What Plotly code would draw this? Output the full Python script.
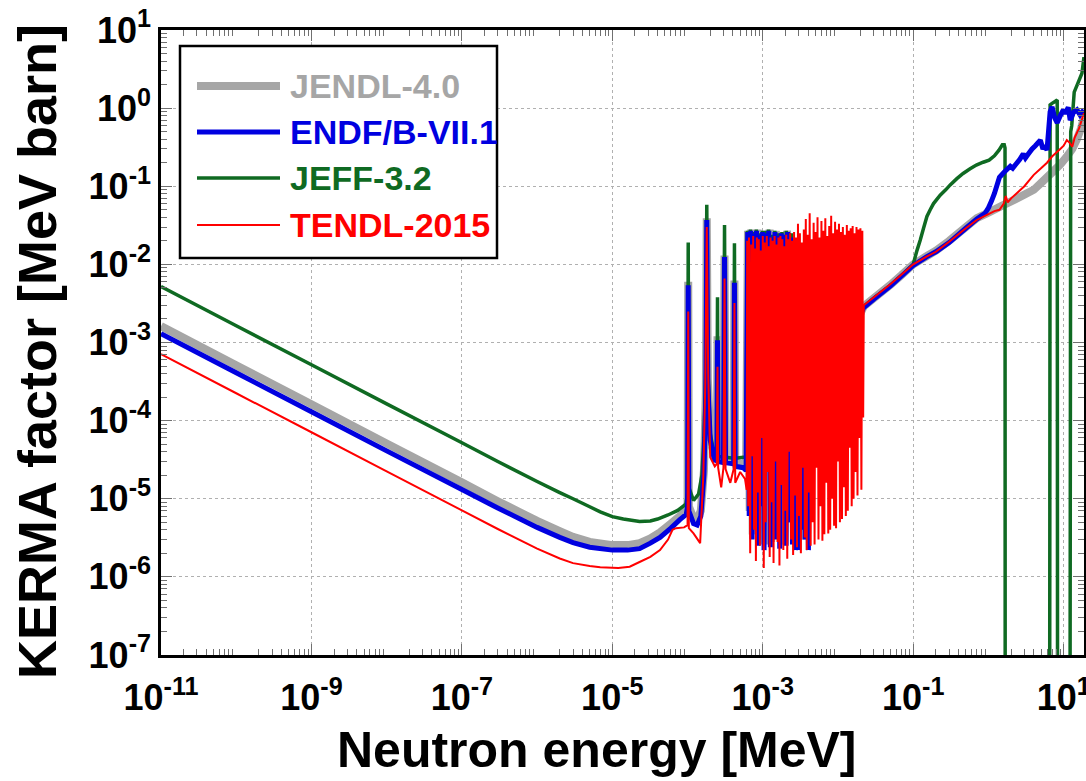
import plotly.graph_objects as go

# ---------------- series data (energy in MeV, KERMA in MeV barn) ----------------
# thermal / epithermal 1/v region
jendl_low_e = [1e-11, 1e-10, 1e-9, 1e-8, 1e-7, 3e-7, 1e-6, 2e-6, 3e-6, 5e-6, 1e-5, 1.6e-5, 2.3e-5, 3.2e-5,
               4.3e-5, 6e-5, 7.9e-5, 9.6e-5]
jendl_low_k = [1.62e-3, 5.1e-4, 1.62e-4, 5.1e-5, 1.62e-5, 9.3e-6, 5.2e-6, 3.85e-6, 3.25e-6, 2.8e-6, 2.55e-6,
               2.55e-6, 2.7e-6, 3.1e-6, 3.7e-6, 4.8e-6, 6.0e-6, 7.0e-6]
endf_low_e = [1e-11, 1e-10, 1e-9, 1e-8, 1e-7, 3e-7, 1e-6, 2e-6, 3e-6, 5e-6, 1e-5, 1.6e-5, 2.3e-5, 3.2e-5,
              4.3e-5, 6e-5, 7.9e-5, 9.6e-5]
endf_low_k = [1.30e-3, 4.1e-4, 1.30e-4, 4.1e-5, 1.31e-5, 7.6e-6, 4.3e-6, 3.2e-6, 2.75e-6, 2.4e-6, 2.2e-6,
              2.2e-6, 2.3e-6, 2.7e-6, 3.2e-6, 4.2e-6, 5.4e-6, 6.3e-6]
jeff_low_e = [1e-11, 1e-10, 1e-9, 1e-8, 1e-7, 3e-7, 1e-6, 2e-6, 3e-6, 5e-6, 6.9e-6, 1e-5, 1.4e-5, 2.3e-5,
              3.2e-5, 4e-5, 5.5e-5, 7.4e-5, 9.5e-5]
jeff_low_k = [5.2e-3, 1.64e-3, 5.2e-4, 1.64e-4, 5.2e-5, 3.0e-5, 1.66e-5, 1.2e-5, 1.0e-5, 7.9e-6, 6.8e-6,
              5.9e-6, 5.5e-6, 5.1e-6, 5.2e-6, 5.5e-6, 6.2e-6, 7.1e-6, 8.5e-6]
tendl_low_e = [1e-11, 1e-10, 1e-9, 1e-8, 1e-7, 3e-7, 1e-6, 2e-6, 3e-6, 5e-6, 6.9e-6, 1.2e-5, 1.7e-5, 2.3e-5,
               3.2e-5, 4.3e-5, 5.5e-5, 6.3e-5, 7.0e-5, 9.0e-5]
tendl_low_k = [7.1e-4, 2.24e-4, 7.1e-5, 2.24e-5, 7.1e-6, 4.1e-6, 2.3e-6, 1.72e-6, 1.5e-6, 1.38e-6, 1.33e-6,
               1.3e-6, 1.35e-6, 1.55e-6, 1.8e-6, 2.2e-6, 3.0e-6, 4.0e-6, 4.2e-6, 4.3e-6]

# isolated low-lying resonances (0.1 - 0.6 keV)
jendl_res_e = [1.0e-4, 1.02e-4, 1.04e-4, 1.2e-4, 1.34e-4, 1.5e-4, 1.65e-4, 1.75e-4, 1.80e-4, 1.86e-4, 2.0e-4, 2.3e-4,
               2.45e-4, 2.5e-4, 2.55e-4, 3.0e-4, 3.1e-4, 3.2e-4, 4.1e-4, 4.2e-4, 4.3e-4, 5.5e-4, 6.0e-4]
jendl_res_k = [9e-6, 6.0e-3, 8e-6, 5.6e-6, 5.4e-6, 7e-6, 2.3e-5, 2.3e-4, 3.9e-2, 3.4e-4, 6.2e-5, 3.3e-5,
               3.5e-5, 1.2e-3, 3.3e-5, 3.2e-5, 1.3e-2, 3.2e-5, 3.1e-5, 6.2e-3, 2.9e-5, 2.8e-5, 2.6e-5]
endf_res_e = [1.0e-4, 1.02e-4, 1.04e-4, 1.2e-4, 1.34e-4, 1.5e-4, 1.65e-4, 1.75e-4, 1.80e-4, 1.86e-4, 2.0e-4, 2.3e-4,
              2.45e-4, 2.5e-4, 2.55e-4, 3.0e-4, 3.1e-4, 3.2e-4, 4.1e-4, 4.2e-4, 4.3e-4, 5.5e-4, 6.0e-4]
endf_res_k = [8e-6, 5.4e-3, 7e-6, 4.8e-6, 4.6e-6, 6e-6, 2e-5, 2e-4, 3.7e-2, 3e-4, 5.6e-5, 3.0e-5,
              3.2e-5, 1.07e-3, 3e-5, 2.9e-5, 1.24e-2, 2.9e-5, 2.8e-5, 5.8e-3, 2.6e-5, 2.5e-5, 2.3e-5]
jeff_res_e = [1.0e-4, 1.02e-4, 1.04e-4, 1.2e-4, 1.4e-4, 1.55e-4, 1.65e-4, 1.75e-4, 1.8e-4, 1.86e-4, 2.0e-4, 2.3e-4,
              2.45e-4, 2.5e-4, 2.55e-4, 3.0e-4, 3.1e-4, 3.2e-4, 4.1e-4, 4.2e-4, 4.3e-4, 5.5e-4, 6.0e-4]
jeff_res_k = [1.2e-5, 1.9e-2, 1.4e-5, 9.5e-6, 1.15e-5, 2.0e-5, 6e-5, 5e-4, 5.8e-2, 5e-4, 6.9e-5, 3.4e-5,
              3.5e-5, 3.8e-3, 3.5e-5, 3.4e-5, 3.2e-2, 3.4e-5, 3.3e-5, 1.87e-2, 3.3e-5, 3.4e-5, 3.4e-5]
tendl_res_e = [1.0e-4, 1.02e-4, 1.04e-4, 1.2e-4, 1.47e-4, 1.62e-4, 1.72e-4, 1.8e-4, 1.88e-4, 2.0e-4, 2.3e-4, 2.45e-4,
               2.5e-4, 2.55e-4, 2.8e-4, 3.0e-4, 3.1e-4, 3.2e-4, 3.7e-4, 4.1e-4, 4.2e-4, 4.3e-4, 5.0e-4, 5.8e-4, 6.1e-4]
tendl_res_k = [4.6e-6, 2.5e-3, 4.2e-6, 3.6e-6, 2.7e-6, 2e-5, 3e-4, 3.0e-2, 4e-4, 3.4e-5, 2.6e-5, 2.8e-5,
               4.9e-4, 2.5e-5, 1.4e-5, 2.5e-5, 6.6e-3, 2.4e-5, 1.6e-5, 2.4e-5, 3.2e-3, 1.6e-5, 2.2e-5, 1.8e-5, 1.3e-5]

# dense resolved-resonance region, energies in keV (peak / valley pairs)
jendl_dense_kev = [0.635, 0.67, 0.70, 0.735, 0.77, 0.81, 0.85, 0.89, 0.93, 0.975, 1.02, 1.07, 1.12, 1.175, 1.23,
                   1.29, 1.35, 1.42, 1.49, 1.56, 1.7, 1.9, 2.1, 2.35, 2.6, 2.95, 3.3, 3.7, 4.0, 4.3]
jendl_dense_k = [2.7e-2, 7e-6, 2.8e-2, 3.5e-6, 2.6e-2, 2.5e-5, 2.8e-2, 3e-6, 2.5e-2, 9e-6,
                 2.7e-2, 2.6e-6, 2.6e-2, 3.5e-5, 2.8e-2, 2.8e-6, 2.3e-2, 1.2e-5, 2.7e-2, 3.5e-6,
                 2.6e-2, 2.6e-6, 2.7e-2, 1.2e-5, 1.8e-2, 5e-6, 1.7e-2, 3e-6, 1.5e-2, 1e-4]
endf_dense_kev = [0.63, 0.66, 0.69, 0.72, 0.755, 0.79, 0.825, 0.865, 0.905, 0.95, 0.995, 1.04, 1.09, 1.145, 1.2,
                  1.26, 1.32, 1.385, 1.45, 1.52, 1.6, 1.68, 1.76, 1.85, 1.94, 2.04, 2.14, 2.25, 2.36, 2.48,
                  2.6, 2.73, 2.87, 3.01, 3.16, 3.32, 3.49, 3.66, 3.85, 4.04, 4.25, 4.45]
endf_dense_k = [2.6e-2, 6e-6, 2.7e-2, 3e-6, 2.5e-2, 2e-5, 2.7e-2, 2.5e-6, 2.4e-2, 8e-6,
                2.6e-2, 2.2e-6, 2.5e-2, 3e-5, 2.7e-2, 2.4e-6, 2.2e-2, 1e-5, 2.6e-2, 3e-6,
                2.3e-2, 2.3e-6, 2.5e-2, 1.5e-5, 2.4e-2, 2.5e-6, 2.6e-2, 5e-6, 2.2e-2, 2.6e-6,
                1.8e-2, 2.2e-6, 1.9e-2, 2.2e-6, 1.7e-2, 4e-6, 1.8e-2, 3e-6, 1.7e-2, 2.2e-6,
                1.5e-2, 1e-4]
jeff_dense_kev = [0.625, 0.655, 0.685, 0.715, 0.75, 0.785, 0.82, 0.86, 0.9, 0.945, 0.99, 1.035, 1.085, 1.14,
                  1.195, 1.255, 1.315, 1.38, 1.445, 1.515, 1.6, 1.7, 1.8, 1.92, 2.05, 2.2, 2.4, 2.6, 2.85, 3.1]
jeff_dense_k = [2.7e-2, 1.2e-5, 2.8e-2, 6e-6, 2.6e-2, 3e-5, 2.8e-2, 5e-6, 2.5e-2, 1.5e-5,
                2.7e-2, 4e-6, 2.7e-2, 4e-5, 2.8e-2, 4e-6, 2.4e-2, 1.5e-5, 2.7e-2, 5e-6,
                2.5e-2, 6e-6, 2.6e-2, 2e-5, 2.7e-2, 5e-6, 2.5e-2, 1e-5, 1.6e-2, 1e-4]
tendl_dense_kev = [0.62, 0.64, 0.655, 0.68, 0.70, 0.72, 0.745, 0.765, 0.79, 0.81,
                   0.835, 0.86, 0.885, 0.915, 0.94, 0.97, 1.00, 1.03, 1.06, 1.095,
                   1.13, 1.16, 1.195, 1.235, 1.27, 1.31, 1.35, 1.39, 1.435, 1.475,
                   1.52, 1.57, 1.615, 1.665, 1.715, 1.77, 1.82, 1.875, 1.935, 1.99,
                   2.05, 2.115, 2.18, 2.245, 2.31, 2.38, 2.455, 2.53, 2.605, 2.685,
                   2.765, 2.85, 2.935, 3.025, 3.115, 3.21, 3.31, 3.41, 3.51, 3.62,
                   3.73, 3.84, 3.96, 4.08, 4.2, 4.33, 4.46, 4.6, 4.74, 4.88,
                   5.03, 5.18, 5.34, 5.5, 5.67, 5.84, 6.02, 6.2, 6.39, 6.58,
                   6.78, 6.99, 7.2, 7.42, 7.64, 7.87, 8.11, 8.36, 8.61, 8.87,
                   9.14, 9.42, 9.7, 10.0, 10.3, 10.6, 10.95, 11.3, 11.6, 11.95,
                   12.3, 12.7, 13.1, 13.5, 13.9, 14.3, 14.75, 15.2, 15.65, 16.1,
                   16.6, 17.1, 17.6, 18.15, 18.7, 19.25, 19.85, 20.45, 21.05, 21.6]
tendl_dense_k = [2.0e-2, 8e-6, 2.2e-2, 2.0e-6, 1.8e-2, 3.5e-5, 2.3e-2, 4e-6, 1.6e-2, 1.6e-6,
                 2.2e-2, 1.2e-5, 2.1e-2, 2.5e-6, 1.5e-2, 6e-5, 2.3e-2, 1.3e-6, 1.9e-2, 5e-6,
                 2.3e-2, 2.2e-5, 1.7e-2, 1.8e-6, 2.2e-2, 9e-6, 2.0e-2, 1.5e-6, 2.3e-2, 3e-5,
                 1.8e-2, 2.8e-6, 2.2e-2, 1.4e-6, 2.3e-2, 1.5e-5, 2.1e-2, 2.2e-6, 1.7e-2, 7e-6,
                 2.4e-2, 1.7e-6, 2.1e-2, 4e-5, 2.5e-2, 3e-6, 2.0e-2, 1.9e-6, 2.6e-2, 1.1e-5,
                 2.2e-2, 2.4e-6, 3.3e-2, 6e-6, 2.5e-2, 2.0e-6, 1.9e-2, 2.5e-5, 2.8e-2, 3.2e-6,
                 3.8e-2, 2.2e-6, 2.4e-2, 1.2e-5, 4.5e-2, 2.5e-6, 2.1e-2, 5e-6, 3.4e-2, 2.6e-6,
                 2.6e-2, 2.5e-5, 4.0e-2, 3e-6, 2.2e-2, 8e-6, 3.6e-2, 2.9e-6, 2.7e-2, 3.5e-6,
                 3.9e-2, 1.6e-5, 2.3e-2, 3.6e-6, 3.1e-2, 4e-6, 4.2e-2, 1.0e-5, 2.5e-2, 4.5e-6,
                 3.5e-2, 4.2e-6, 2.8e-2, 3e-5, 3.3e-2, 5e-6, 2.6e-2, 5.5e-6, 3.0e-2, 1.4e-5,
                 2.4e-2, 6e-6, 3.2e-2, 7e-6, 2.7e-2, 4.5e-5, 2.9e-2, 8e-6, 3.1e-2, 1.0e-5,
                 2.5e-2, 2.2e-5, 3.0e-2, 1.1e-5, 2.8e-2, 6e-5, 2.9e-2, 1.3e-5, 2.7e-2, 1.1e-4]

# fast-neutron region (22 keV - 20 MeV); 1e-9 marks zero-valued stretches
jendl_fast_e = [2.2e-2, 3e-2, 5e-2, 7e-2, 0.1, 0.15, 0.2, 0.3, 0.5, 0.7, 1.0, 1.5, 2.0, 3.0, 4.0, 5.0,
                7.0, 9.0, 11.0, 13.0, 15.0, 17.0, 18.6]
jendl_fast_k = [2.9e-3, 3.7e-3, 5.5e-3, 7.3e-3, 1.0e-2, 1.27e-2, 1.5e-2, 2.0e-2, 3.0e-2, 3.9e-2, 4.6e-2, 5.6e-2,
                6.4e-2, 7.8e-2, 9.0e-2, 0.11, 0.15, 0.19, 0.24, 0.30, 0.40, 0.55, 0.75]
endf_fast_e = [2.2e-2, 3e-2, 5e-2, 7e-2, 0.1, 0.15, 0.2, 0.3, 0.5, 0.7, 0.9, 1.0, 1.1, 1.2, 1.4, 1.6, 1.95,
               2.1, 2.4, 2.6, 2.9, 3.1, 3.4, 3.8, 4.2, 4.9, 5.3, 5.6, 6.0, 6.6, 7.0, 7.6, 8.2, 9.0, 9.9,
               10.5, 11.5, 12.2, 13.5, 15.0, 16.5, 18.6]
endf_fast_k = [2.8e-3, 3.6e-3, 5.3e-3, 7.1e-3, 9.7e-3, 1.25e-2, 1.45e-2, 1.9e-2, 2.9e-2, 3.8e-2, 4.5e-2, 5.3e-2,
               6.5e-2, 8.1e-2, 0.13, 0.15, 0.18, 0.17, 0.20, 0.22, 0.26, 0.23, 0.26, 0.30, 0.33, 0.39, 0.30,
               0.33, 0.29, 0.90, 1.04, 0.75, 0.65, 0.80, 0.95, 0.85, 1.02, 0.70, 0.88, 0.95, 0.82, 0.95]
jeff_fast_e = [2.2e-2, 3e-2, 5e-2, 7e-2, 0.1, 0.105, 0.112, 0.124, 0.137, 0.152, 0.168, 0.186, 0.228, 0.27,
               0.31, 0.38, 0.46, 0.57, 0.69, 0.85, 1.02, 1.2, 1.38, 1.53, 1.62, 1.66, 1.67, 6.5, 6.6, 7.0,
               7.5, 8.2, 8.3, 12.1, 12.4, 12.8, 13.8, 15.5, 17.5, 18.6]
jeff_fast_k = [2.9e-3, 3.7e-3, 5.4e-3, 7.2e-3, 1.0e-2, 1.2e-2, 1.5e-2, 2.05e-2, 2.9e-2, 4.1e-2, 5.0e-2, 6.0e-2,
               7.7e-2, 9.0e-2, 0.104, 0.125, 0.146, 0.167, 0.187, 0.203, 0.216, 0.245, 0.29, 0.34, 0.34, 0.31,
               1e-9, 1e-9, 1.1, 1.15, 1.2, 1.27, 1e-9, 1e-9, 0.5, 0.6, 1.6, 2.1, 2.8, 4.5]
tendl_fast_e = [2.2e-2, 3e-2, 5e-2, 7e-2, 0.1, 0.15, 0.2, 0.3, 0.5, 0.7, 1.0, 1.2, 1.4, 1.6, 1.7, 1.8, 2.0,
                2.5, 3.0, 3.5, 4.0, 5.0, 6.0, 7.0, 8.0, 9.0, 10.0, 11.0, 12.0, 13.0, 14.0, 16.0, 18.6]
tendl_fast_k = [3.0e-3, 3.8e-3, 5.6e-3, 7.4e-3, 1.0e-2, 1.26e-2, 1.45e-2, 1.95e-2, 2.9e-2, 3.7e-2, 4.4e-2, 4.8e-2,
                5.0e-2, 6.0e-2, 7.5e-2, 6.2e-2, 7.0e-2, 8.5e-2, 0.10, 0.12, 0.14, 0.17, 0.20, 0.24, 0.27, 0.30,
                0.33, 0.39, 0.36, 0.32, 0.42, 0.55, 0.86]

# library names, colours, widths
names = ["JENDL-4.0", "ENDF/B-VII.1", "JEFF-3.2", "TENDL-2015"]
colors = ["#a6a6a6", "#0000e0", "#0f6a22", "#ff0000"]
widths = [8, 5, 3.5, 2]

# axis ticks
x_label_exponents = [-11, -9, -7, -5, -3, -1, 1]
x_odd_exponents = [-10, -8, -6, -4, -2, 0]
y_exponents = list(range(-7, 2))


def assemble(low_e, low_k, res_e, res_k, dense_kev, dense_k, fast_e, fast_k):
    e = low_e + res_e + [v * 1e-3 for v in dense_kev] + fast_e
    k = low_k + res_k + dense_k + fast_k
    return e, k


series = [
    assemble(jendl_low_e, jendl_low_k, jendl_res_e, jendl_res_k, jendl_dense_kev, jendl_dense_k, jendl_fast_e, jendl_fast_k),
    assemble(endf_low_e, endf_low_k, endf_res_e, endf_res_k, endf_dense_kev, endf_dense_k, endf_fast_e, endf_fast_k),
    assemble(jeff_low_e, jeff_low_k, jeff_res_e, jeff_res_k, jeff_dense_kev, jeff_dense_k, jeff_fast_e, jeff_fast_k),
    assemble(tendl_low_e, tendl_low_k, tendl_res_e, tendl_res_k, tendl_dense_kev, tendl_dense_k, tendl_fast_e, tendl_fast_k),
]

fig = go.Figure()
# drawing order: JENDL underneath, then JEFF, ENDF, TENDL on top
for i in [0, 2, 1, 3]:
    e, k = series[i]
    fig.add_trace(go.Scatter(x=e, y=k, mode="lines", name=names[i],
                             line=dict(color=colors[i], width=widths[i], simplify=False),
                             showlegend=False))

FONT = "Liberation Sans, Arial, Helvetica, sans-serif"

x_minor = [m * 10.0 ** p for p in range(-11, 2) for m in range(2, 10)]
y_minor = [m * 10.0 ** p for p in range(-7, 1) for m in range(2, 10)]

grid = dict(showgrid=True, gridcolor="#b0b0b0", griddash="dot", gridwidth=1)
tick_style = dict(ticks="inside", ticklen=11, tickwidth=1.2, tickcolor="#707070")

fig.update_layout(
    xaxis=dict(
        type="log", range=[-11, 1.27], tickmode="array", automargin=False,
        tickvals=[10.0 ** p for p in x_label_exponents],
        ticktext=[f"10<sup>{p}</sup>" for p in x_label_exponents],
        ticklabeloverflow="allow", ticklabelstandoff=9,
        showline=True, linecolor="black", linewidth=2.5, mirror="allticks", zeroline=False,
        tickfont=dict(family=FONT, size=36, color="black", weight="bold"),
        minor=dict(tickmode="array", tickvals=x_minor, ticks="inside", ticklen=6,
                   tickcolor="#707070", tickwidth=1, showgrid=False),
        **grid, **tick_style,
    ),
    # companion axis carrying the unlabelled decade ticks and grid lines
    xaxis2=dict(
        type="log", range=[-11, 1.27], overlaying="x", anchor="y", side="bottom", automargin=False,
        tickmode="array", tickvals=[10.0 ** p for p in x_odd_exponents],
        showticklabels=False, showline=False, mirror="ticks", zeroline=False,
        **grid, **tick_style,
    ),
    yaxis=dict(
        type="log", range=[-7, 1], tickmode="array", automargin=False,
        tickvals=[10.0 ** p for p in y_exponents],
        ticktext=[f"10<sup>{p}</sup>" for p in y_exponents],
        ticklabeloverflow="allow",
        showline=True, linecolor="black", linewidth=2.5, mirror="allticks", zeroline=False,
        tickfont=dict(family=FONT, size=36, color="black", weight="bold"),
        minor=dict(tickmode="array", tickvals=y_minor, ticks="inside", ticklen=6,
                   tickcolor="#707070", tickwidth=1, showgrid=False),
        **grid, **tick_style,
    ),
)

L, R, T, B = 161, 2, 30, 126
W, H = 1086, 781
PW, PH = W - L - R, H - T - B


def px(xp):
    return (xp - L) / PW


def py(yp):
    return (H - B - yp) / PH


shapes = [dict(type="rect", xref="paper", yref="paper", x0=px(180), x1=px(497), y0=py(258), y1=py(46),
               line=dict(color="black", width=2.5), fillcolor="white", layer="above")]
annotations = [
    dict(text="<b>Neutron energy [MeV]</b>", xref="paper", yref="paper", x=px(597), y=py(750),
         showarrow=False, font=dict(family=FONT, size=50, color="black"), xanchor="center", yanchor="middle"),
    dict(text="<b>KERMA factor [MeV barn]</b>", xref="paper", yref="paper", x=px(37), y=py(352),
         showarrow=False, textangle=-90, font=dict(family=FONT, size=54, color="black"),
         xanchor="center", yanchor="middle"),
]
row_y = [86, 132, 178, 225]
for i in range(4):
    shapes.append(dict(type="line", xref="paper", yref="paper", x0=px(197), x1=px(280),
                       y0=py(row_y[i]), y1=py(row_y[i]), line=dict(color=colors[i], width=widths[i]),
                       layer="above"))
    annotations.append(dict(text=f"<b>{names[i]}</b>", xref="paper", yref="paper", x=px(288), y=py(row_y[i]),
                            showarrow=False, xanchor="left", yanchor="middle",
                            font=dict(family=FONT, size=34, color=colors[i])))

fig.update_layout(
    width=W, height=H, margin=dict(l=L, r=R, t=T, b=B, autoexpand=False),
    paper_bgcolor="white", plot_bgcolor="white", showlegend=False,
    font=dict(family=FONT, color="black"),
    shapes=shapes, annotations=annotations,
)

fig.write_html("out.html")
